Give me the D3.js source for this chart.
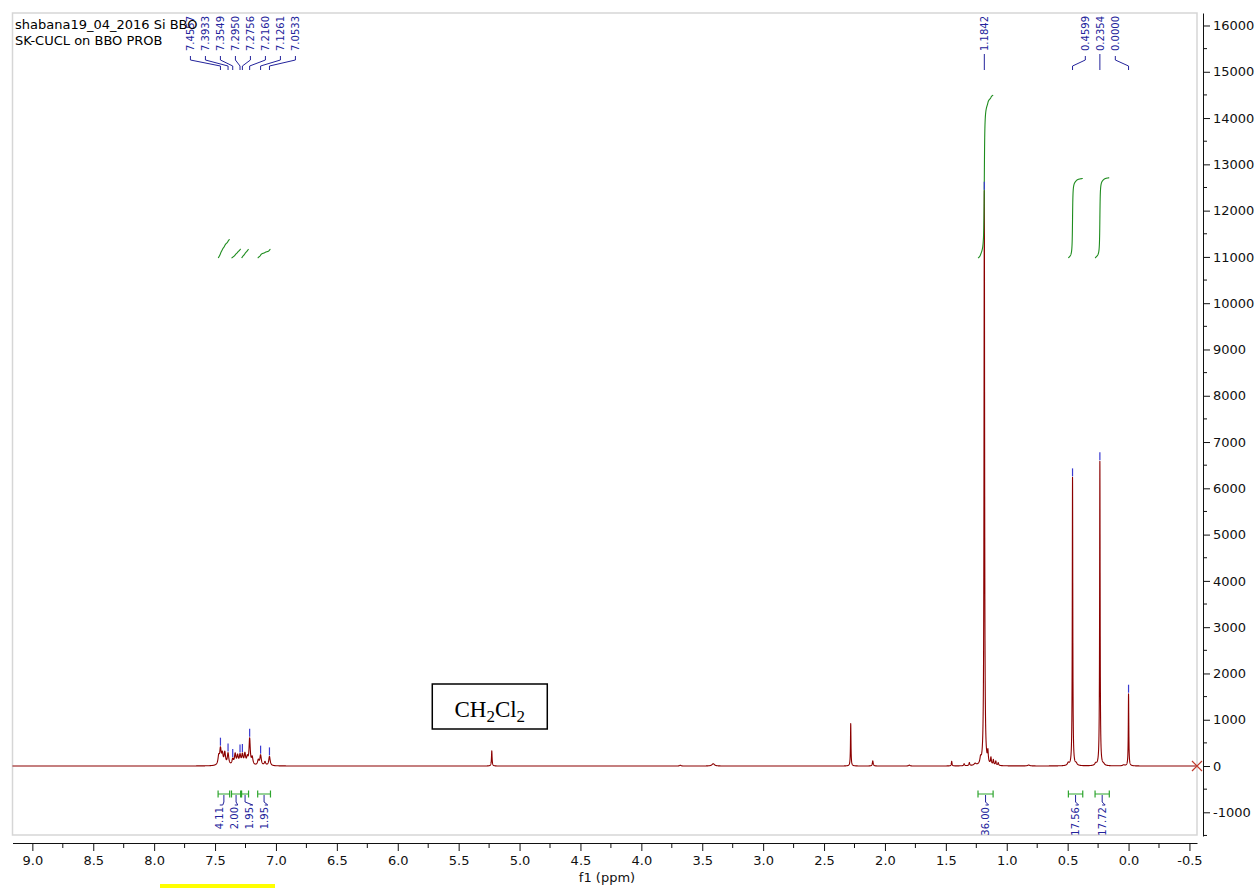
<!DOCTYPE html>
<html>
<head>
<meta charset="utf-8">
<script src="https://cdn.jsdelivr.net/npm/d3@7"></script>
<style>
  html, body { margin: 0; padding: 0; background: #ffffff; }
  svg { display: block; font-family: "DejaVu Sans", Verdana, sans-serif; }
</style>
</head>
<body>
<svg id="chart" width="1257" height="888"></svg>
<script>
// ---- Sample header ----
const titleLines = ["shabana19_04_2016 Si BBO", "SK-CUCL on BBO PROB"];

// ---- Resolved lines of the 1H spectrum: shift (ppm), height, half width (ppm) ----
const peakShift = [
  0.0000, 0.0400, 0.2050, 0.2354, 0.2700, 0.4300, 0.4599, 0.4950, 0.8200,
  1.0700, 1.0900, 1.1100, 1.1300, 1.1550, 1.1842, 1.2150, 1.2600, 1.3070,
  1.3500, 1.4520, 1.8000, 2.1000, 2.2810, 3.4100, 3.6800, 5.2280,
  7.0533, 7.0900, 7.1261, 7.1450, 7.1950, 7.2160, 7.2350, 7.2550, 7.2756,
  7.2950, 7.3150, 7.3350, 7.3549, 7.3933, 7.4200, 7.4400, 7.4557, 7.4700
];
const peakHeight = [
  1560, 20, 30, 6580, 45, 40, 6230, 55, 20,
  60, 90, 110, 150, 240, 12420, 120, 40, 65,
  45, 100, 20, 110, 920, 50, 18, 330,
  200, 80, 220, 110, 160, 560, 150, 230, 210,
  200, 190, 230, 120, 250, 260, 220, 330, 180
];
const peakHalfWidth = [
  0.0025, 0.010, 0.008, 0.0025, 0.008, 0.008, 0.0025, 0.008, 0.010,
  0.004, 0.004, 0.004, 0.004, 0.004, 0.0030, 0.006, 0.010, 0.004,
  0.004, 0.003, 0.006, 0.004, 0.0025, 0.012, 0.006, 0.003,
  0.007, 0.007, 0.007, 0.007, 0.007, 0.006, 0.007, 0.007, 0.007,
  0.007, 0.007, 0.007, 0.007, 0.007, 0.007, 0.007, 0.007, 0.007
];

// ---- Picked peaks (labelled at the top) ----
const pickedShifts = [7.4557, 7.3933, 7.3549, 7.2950, 7.2756, 7.2160, 7.1261, 7.0533,
                      1.1842, 0.4599, 0.2354, 0.0000];

// ---- Integration regions (ppm) and normalised integrals ----
const integralFrom  = [7.475, 7.365, 7.282, 7.150, 1.236, 0.494, 0.275];
const integralTo    = [7.380, 7.290, 7.225, 7.045, 1.112, 0.376, 0.158];
const integralValue = [4.11, 2.00, 1.95, 1.95, 36.00, 17.56, 17.72];

// ---- Axes ----
const xTickValues = [9.0, 8.5, 8.0, 7.5, 7.0, 6.5, 6.0, 5.5, 5.0, 4.5, 4.0, 3.5, 3.0, 2.5, 2.0, 1.5, 1.0, 0.5, 0.0, -0.5];
const yTickValues = [-1000, 0, 1000, 2000, 3000, 4000, 5000, 6000, 7000, 8000, 9000, 10000,
                     11000, 12000, 13000, 14000, 15000, 16000];
const xAxisTitle = "f1 (ppm)";
const solventShift = 5.228;
const solventName = ["CH", "2", "Cl", "2"];

// ---- Layout ----
const frame = { left: 12.5, right: 1197, top: 13, bottom: 835 };
const ppmLeft = 9.163, ppmRight = -0.562;

const COL_SPEC = "#8b0000";
const COL_BLUE = "#23239b";
const COL_INT = "#1e8c1e";
const COL_BRK = "#2ea52e";

const svg = d3.select("#chart");

const x = d3.scaleLinear().domain([ppmLeft, ppmRight]).range([frame.left, frame.right]);
const y = d3.scaleLinear().domain([-1512, 16270]).range([836, frame.top]);
const yInt = d3.scaleLinear().domain([0, 36]).range([258, 95]);

// Spectrum = sum of Lorentzian lines
function intensity(p) {
  let s = 0;
  for (let i = 0; i < peakShift.length; i++) {
    const d = p - peakShift[i], g = peakHalfWidth[i];
    s += peakHeight[i] * g * g / (d * d + g * g);
  }
  return s;
}
const step = 0.0005;
let grid = d3.range(ppmRight, ppmLeft + step / 2, step);
grid = grid.concat(peakShift).sort((a, b) => b - a);
const spectrum = grid.map(p => ({ p, v: intensity(p) }));

// Plot frame
svg.append("rect")
  .attr("x", frame.left).attr("y", frame.top)
  .attr("width", frame.right - frame.left).attr("height", frame.bottom - frame.top)
  .attr("fill", "none").attr("stroke", "#d6d6d6").attr("stroke-width", 1.5);

// Spectrum trace
const line = d3.line().x(d => x(d.p)).y(d => y(d.v));
svg.append("path").datum(spectrum)
  .attr("d", line).attr("fill", "none")
  .attr("stroke", COL_SPEC).attr("stroke-width", 1.1).attr("stroke-linejoin", "round");

// End-of-trace cross
const ex = x(ppmRight), ey = y(0);
svg.append("path")
  .attr("d", `M${ex - 5},${ey - 5}L${ex + 5},${ey + 5}M${ex - 5},${ey + 5}L${ex + 5},${ey - 5}`)
  .attr("stroke", "#c0392b").attr("stroke-width", 1.2);

// Label spreading: overlapping labels are grouped and spaced evenly about their mean
function spreadLabels(targets, spacing, join) {
  const clusters = [];
  targets.forEach((t, i) => {
    clusters.push({ items: [i], sum: t, start: t });
    while (clusters.length > 1) {
      const n = clusters.length, a = clusters[n - 2], b = clusters[n - 1];
      const aEnd = a.start + (a.items.length - 1) * spacing;
      if (b.start - aEnd >= join) break;
      const items = a.items.concat(b.items), sum = a.sum + b.sum;
      clusters.splice(n - 2, 2, { items, sum, start: sum / items.length - (items.length - 1) * spacing / 2 });
    }
  });
  const out = new Array(targets.length);
  clusters.forEach(c => c.items.forEach((idx, k) => { out[idx] = c.start + k * spacing; }));
  return out;
}

// Integral curves, brackets and values
const intG = svg.append("g");
const bracketY = 794;
const brkCenters = integralFrom.map((f, i) => (x(f) + x(integralTo[i])) / 2);
const intLabelX = spreadLabels(brkCenters, 15, 15);
integralFrom.forEach((from, i) => {
  const to = integralTo[i];
  const pts = spectrum.filter(d => d.p <= from && d.p >= to);
  let cum = 0;
  const acc = [{ p: pts[0].p, c: 0 }];
  for (let k = 1; k < pts.length; k++) {
    cum += (pts[k - 1].v + pts[k].v) / 2 * (pts[k - 1].p - pts[k].p);
    acc.push({ p: pts[k].p, c: cum });
  }
  const total = cum;
  intG.append("path").datum(acc)
    .attr("d", d3.line().x(d => x(d.p)).y(d => yInt(integralValue[i] * d.c / total)))
    .attr("fill", "none").attr("stroke", COL_INT).attr("stroke-width", 1.1);

  const x1 = x(from), x2 = x(to), cx = brkCenters[i], lx = intLabelX[i];
  intG.append("path")
    .attr("d", `M${x1},${bracketY}H${x2}M${x1},${bracketY - 3.5}V${bracketY + 3.5}M${x2},${bracketY - 3.5}V${bracketY + 3.5}`)
    .attr("stroke", COL_BRK).attr("stroke-width", 1.2).attr("fill", "none");
  intG.append("path")
    .attr("d", `M${cx},${bracketY + 1}V${bracketY + 8}L${lx + 3},${bracketY + 11}H${lx}`)
    .attr("stroke", COL_BLUE).attr("stroke-width", 1).attr("fill", "none");
  intG.append("text")
    .attr("transform", `translate(${lx},${bracketY + 13}) rotate(-90)`)
    .attr("text-anchor", "end").attr("dy", "0.36em")
    .attr("font-size", 10).attr("fill", COL_BLUE)
    .text(integralValue[i].toFixed(2));
});

// Picked peak markers and labels
const pkG = svg.append("g");
const pkX = pickedShifts.map(p => x(p));
const pkLabelX = spreadLabels(pkX, 15, 40);
pickedShifts.forEach((p, i) => {
  const px = pkX[i], top = y(intensity(p));
  pkG.append("line")
    .attr("x1", px).attr("x2", px).attr("y1", top - 9).attr("y2", top - 1)
    .attr("stroke", "#3b3bd0").attr("stroke-width", 1.2);
  const lx = pkLabelX[i];
  pkG.append("path")
    .attr("d", Math.abs(lx - px) < 0.5 ? `M${px},54V70` : `M${lx},56V60L${px},66V70`)
    .attr("stroke", COL_BLUE).attr("stroke-width", 1).attr("fill", "none");
  pkG.append("text")
    .attr("transform", `translate(${lx},51) rotate(-90)`)
    .attr("text-anchor", "start").attr("dy", "0.36em")
    .attr("font-size", 10).attr("fill", COL_BLUE)
    .text(p.toFixed(4));
});

// Solvent annotation
const sx = x(solventShift) - 2;
svg.append("rect")
  .attr("x", sx - 57.5).attr("y", 684).attr("width", 115).attr("height", 45)
  .attr("fill", "#ffffff").attr("stroke", "#000").attr("stroke-width", 1.5);
const sol = svg.append("text")
  .attr("x", sx).attr("y", 717).attr("text-anchor", "middle")
  .attr("font-family", "'Liberation Serif', 'Times New Roman', serif")
  .attr("font-size", 23).attr("fill", "#000");
solventName.forEach((s, i) => {
  const sub = i % 2 === 1;
  sol.append("tspan")
    .attr("font-size", sub ? 17 : 23)
    .attr("dy", sub ? 5 : (i === 0 ? 0 : -5))
    .text(s);
});

// Y axis (right)
const yAxisX = 1203;
const yAxis = d3.axisRight(y).tickValues(yTickValues).tickSize(7).tickSizeOuter(0)
  .tickPadding(3).tickFormat(d => String(d));
const gy = svg.append("g").attr("transform", `translate(${yAxisX},0)`).call(yAxis);
gy.selectAll("text").attr("font-size", 13).attr("fill", "#111")
  .attr("font-family", "'DejaVu Sans', sans-serif");
gy.selectAll("line").attr("stroke", "#111");
gy.select(".domain").attr("stroke", "#111");
const yMinor = [-1500].concat(yTickValues.map(v => v + 500)).filter(v => y(v) > frame.top && y(v) < 836);
gy.selectAll(".minor").data(yMinor).enter().append("line").attr("class", "minor")
  .attr("x1", 0).attr("x2", 4).attr("y1", d => y(d)).attr("y2", d => y(d)).attr("stroke", "#111");

// X axis (bottom)
const xAxisY = 843;
const xAxis = d3.axisBottom(x).tickValues(xTickValues).tickSize(8).tickSizeOuter(0)
  .tickPadding(5).tickFormat(d => d.toFixed(1));
const gx = svg.append("g").attr("transform", `translate(0,${xAxisY})`).call(xAxis);
gx.selectAll("text").attr("font-size", 13).attr("fill", "#111")
  .attr("font-family", "'DejaVu Sans', sans-serif");
gx.selectAll("line").attr("stroke", "#111");
gx.select(".domain").attr("stroke", "#111");
const xMinor = xTickValues.map(v => v + 0.25).filter(v => v < ppmLeft);
gx.selectAll(".minor").data(xMinor).enter().append("line").attr("class", "minor")
  .attr("x1", d => x(d)).attr("x2", d => x(d)).attr("y1", 0).attr("y2", 5).attr("stroke", "#111");

svg.append("text")
  .attr("x", 607).attr("y", 882).attr("text-anchor", "middle")
  .attr("font-size", 13).attr("fill", "#111")
  .text(xAxisTitle);

// Header text
titleLines.forEach((t, i) => {
  svg.append("text")
    .attr("x", 15).attr("y", 29 + i * 16)
    .attr("font-size", 13).attr("fill", "#000")
    .text(t);
});

// Highlight strip under the axis
svg.append("rect").attr("x", 160).attr("y", 884).attr("width", 115).attr("height", 4).attr("fill", "#ffff00");
</script>
</body>
</html>
